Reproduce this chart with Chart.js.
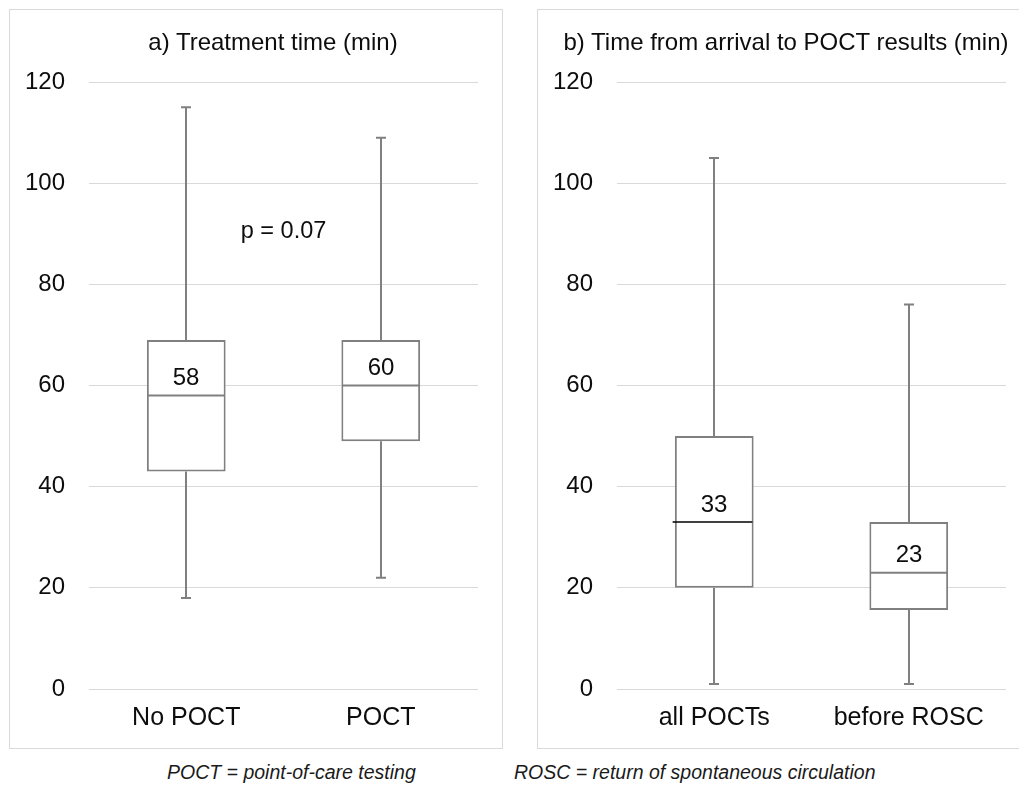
<!DOCTYPE html>
<html>
<head>
<meta charset="utf-8">
<script src="https://cdn.jsdelivr.net/npm/chart.js@4.4.1/dist/chart.umd.min.js"></script>
<style>
  html, body { margin: 0; padding: 0; background: #fff; width: 1019px; height: 796px; overflow: hidden;
    font-family: "Liberation Sans", Arial, sans-serif; }
  .panel { position: absolute; border: 1px solid #d9d9d9; box-sizing: border-box; }
  canvas { position: absolute; top: 0; }
  .title { position: absolute; transform: translate(-50%, -50%); font-size: 24px; white-space: nowrap; color: #0d0d0d; }
  .note { position: absolute; transform: translateY(-50%); font-style: italic; font-size: 19.5px; white-space: nowrap; color: #1a1a1a; }
</style>
</head>
<body>
<div class="panel" style="left:9px;top:9px;width:494px;height:740px"></div>
<div class="panel" style="left:537px;top:9px;width:490px;height:740px"></div>
<canvas id="chartA" width="520" height="760" style="left:0"></canvas>
<canvas id="chartB" width="492" height="760" style="left:527px"></canvas>
<div class="title" style="left:273px;top:42px">a) Treatment time (min)</div>
<div class="title" style="left:786px;top:42px">b) Time from arrival to POCT results (min)</div>
<div class="note" style="left:167px;top:772px">POCT = point-of-care testing</div>
<div class="note" style="left:514px;top:772px">ROSC = return of spontaneous circulation</div>

<script>
// Panel a: treatment time (min)
const categoriesA = ['No POCT', 'POCT'];
const minA    = [18, 22];
const q1A     = [43, 49];
const medianA = [58, 60];
const q3A     = [69, 69];
const maxA    = [115, 109];

// Panel b: time from arrival to POCT results (min)
const categoriesB = ['all POCTs', 'before ROSC'];
const minB    = [1, 1];
const q1B     = [20, 15.6];
const medianB = [33, 23];
const q3B     = [50, 33];
const maxB    = [105, 76];

// Shared value axis
const yTicks = [0, 20, 40, 60, 80, 100, 120];

const FONT = '"Liberation Sans", Arial, sans-serif';
const LINE = '#808080';

// Whiskers, caps, median lines and median labels, placed with the chart's scales
const boxWhiskers = {
  id: 'boxWhiskers',
  afterDatasetsDraw(chart, args, o) {
    const { ctx } = chart;
    const x = chart.scales.x, y = chart.scales.y;
    const meta = chart.getDatasetMeta(0);
    ctx.save();
    meta.data.forEach((bar, i) => {
      const cx = Math.round(x.getPixelForValue(i));
      const half = bar.width / 2;
      const yMin = y.getPixelForValue(o.min[i]);
      const yMax = y.getPixelForValue(o.max[i]);
      const yQ1 = y.getPixelForValue(o.q1[i]);
      const yQ3 = y.getPixelForValue(o.q3[i]);
      const yMed = y.getPixelForValue(o.median[i]);

      ctx.strokeStyle = LINE;
      ctx.lineWidth = 2;
      ctx.beginPath();
      ctx.moveTo(cx, yQ3); ctx.lineTo(cx, yMax);
      ctx.moveTo(cx - 5, yMax); ctx.lineTo(cx + 5, yMax);
      ctx.moveTo(cx, yQ1); ctx.lineTo(cx, yMin);
      ctx.moveTo(cx - 5, yMin); ctx.lineTo(cx + 5, yMin);
      ctx.stroke();

      ctx.strokeStyle = o.medianColors[i];
      ctx.lineWidth = o.medianWidths[i];
      ctx.beginPath();
      ctx.moveTo(cx - half - o.medianOverhang[i], yMed);
      ctx.lineTo(cx + half - 1, yMed);
      ctx.stroke();

      ctx.fillStyle = '#0d0d0d';
      ctx.font = '24px ' + FONT;
      ctx.textAlign = 'center';
      ctx.textBaseline = 'middle';
      ctx.fillText(String(o.median[i]), cx, yMed - 17);
    });
    if (o.note) {
      ctx.fillStyle = '#0d0d0d';
      ctx.font = '23.5px ' + FONT;
      ctx.textAlign = 'center';
      ctx.textBaseline = 'middle';
      ctx.fillText(o.note.text, x.getPixelForValue(o.note.at[0]), y.getPixelForValue(o.note.at[1]));
    }
    ctx.restore();
  }
};

function makeChart(id, labels, mins, q1s, medians, q3s, maxs, extra) {
  return new Chart(document.getElementById(id), {
    type: 'bar',
    data: {
      labels: labels,
      datasets: [{
        data: q1s.map((v, i) => [v, q3s[i]]),
        backgroundColor: '#ffffff',
        borderColor: LINE,
        borderWidth: 2,
        borderSkipped: false,
        categoryPercentage: 1,
        barPercentage: 0.405
      }]
    },
    options: {
      responsive: false,
      animation: false,
      devicePixelRatio: 1,
      layout: { padding: { top: 82, right: extra.padRight, bottom: 0, left: 0 } },
      plugins: {
        legend: { display: false },
        tooltip: { enabled: false },
        title: { display: false },
        boxWhiskers: {
          min: mins, q1: q1s, median: medians, q3: q3s, max: maxs,
          medianColors: extra.medianColors,
          medianWidths: extra.medianWidths,
          medianOverhang: extra.medianOverhang,
          note: extra.note
        }
      },
      scales: {
        x: {
          grid: { display: false, drawTicks: false },
          border: { display: false },
          ticks: { color: '#0d0d0d', font: { family: FONT, size: 25 }, padding: 14 },
          afterFit: s => { s.height = 71; }
        },
        y: {
          min: 0, max: 120,
          afterBuildTicks: s => { s.ticks = yTicks.map(v => ({ value: v })); },
          grid: { color: '#d9d9d9', lineWidth: 1, drawTicks: false },
          border: { display: false },
          ticks: { color: '#0d0d0d', font: { family: FONT, size: 24 }, padding: 24 },
          afterFit: s => { s.width = extra.axisWidth; }
        }
      }
    },
    plugins: [boxWhiskers]
  });
}

makeChart('chartA', categoriesA, minA, q1A, medianA, q3A, maxA, {
  padRight: 42, axisWidth: 89,
  medianColors: [LINE, LINE], medianWidths: [2, 2], medianOverhang: [-1, -1],
  note: { text: 'p = 0.07', at: [0.5, 90.5] }
});

makeChart('chartB', categoriesB, minB, q1B, medianB, q3B, maxB, {
  padRight: 13, axisWidth: 90,
  medianColors: ['#000000', LINE], medianWidths: [1.5, 2], medianOverhang: [2, -1],
  note: null
});
</script>
</body>
</html>
